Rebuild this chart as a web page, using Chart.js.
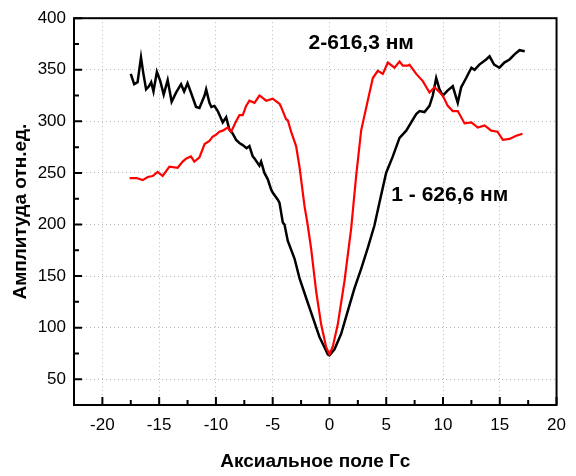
<!DOCTYPE html>
<html>
<head>
<meta charset="utf-8">
<script src="https://cdn.jsdelivr.net/npm/chart.js@4"></script>
<style>
  body { margin: 0; background: #fff; }
  #wrap { width: 576px; height: 476px; position: relative; }
</style>
</head>
<body>
<div id="wrap"><canvas id="myChart"></canvas></div>
<script>
// curve 1 (626,6 nm) - black
const blackX = [-17.5, -17.2, -16.9, -16.6, -16.4, -16.15, -15.9, -15.7, -15.5, -15.2, -14.9, -14.6, -14.25, -13.9, -13.5, -13.07, -12.8, -12.5, -12.2, -11.75, -11.45, -11.0, -10.86, -10.57, -10.4, -10.13, -9.84, -9.4, -9.1, -8.81, -8.52, -8.22, -7.93, -7.64, -7.3, -7.05, -6.76, -6.6, -6.17, -6.02, -5.73, -5.44, -5.14, -5.0, -4.55, -4.4, -4.11, -3.96, -3.67, -3.08, -2.64, -2.06, -1.47, -0.88, -0.44, -0.15, 0, 0.44, 1.03, 1.61, 2.2, 2.79, 3.37, 3.96, 4.4, 4.99, 5.58, 6.17, 6.76, 7.2, 7.64, 7.93, 8.37, 8.81, 9.1, 9.4, 9.69, 9.98, 10.42, 10.86, 11.3, 11.6, 12.04, 12.5, 12.78, 13.2, 13.8, 14.1, 14.5, 14.97, 15.4, 15.86, 16.3, 16.74, 17.2];
const blackY = [346, 336, 338, 362, 347, 331, 334, 338, 329, 348, 339, 326, 340, 319, 328, 336, 329, 337, 328, 314, 313, 325, 331, 318, 314, 315, 310, 299, 304, 292, 288, 282, 279, 277, 274, 276, 266, 264, 257, 261, 250, 244, 234, 231, 224, 221, 202, 200, 184, 167, 148, 129, 110, 91, 81, 74, 73, 79, 94, 116, 138, 157, 177, 199, 221, 250, 266, 284, 291, 299, 307, 310, 309, 315, 325, 342, 331, 325, 330, 334, 318, 333, 342, 352, 350, 355, 360, 363, 355, 352, 357, 360, 365, 369, 368];

// curve 2 (616,3 nm) - red
const redX = [-17.6, -17.0, -16.45, -16.0, -15.57, -15.13, -14.69, -14.1, -13.37, -12.93, -12.6, -12.2, -11.9, -11.45, -11.0, -10.57, -10.3, -10.0, -9.7, -9.4, -8.96, -8.66, -8.22, -7.93, -7.64, -7.34, -7.05, -6.6, -6.17, -6.02, -5.58, -5.0, -4.4, -4.26, -3.82, -3.67, -3.38, -2.94, -2.64, -2.2, -1.91, -1.62, -1.17, -0.73, -0.29, 0, 0.3, 0.73, 1.32, 1.91, 2.35, 2.79, 3.37, 3.82, 4.26, 4.7, 5.14, 5.73, 6.17, 6.46, 6.9, 7.05, 7.64, 8.22, 8.81, 9.25, 9.54, 9.98, 10.42, 10.86, 11.3, 11.9, 12.5, 13.07, 13.66, 14.25, 14.8, 15.27, 15.86, 16.45, 17.0];
const redY = [245, 245, 243, 246, 247, 251, 247, 256, 255, 261, 264, 266, 261, 265, 278, 281, 285, 287, 290, 291, 294, 290, 300, 306, 306, 315, 320, 318, 325, 324, 320, 322, 317, 314, 302, 301, 290, 276, 256, 218, 199, 177, 135, 103, 81, 74, 82, 103, 145, 196, 247, 291, 320, 342, 349, 346, 357, 352, 358, 354, 354, 355, 346, 339, 328, 333, 330, 325, 315, 310, 310, 298, 299, 294, 296, 291, 290, 282, 283, 286, 288];

const xTicks = [-20, -15, -10, -5, 0, 5, 10, 15, 20];
const yTicks = [50, 100, 150, 200, 250, 300, 350, 400];

const label1 = '1 - 626,6 нм';
const label2 = '2-616,3 нм';

const toPoints = (xs, ys) => xs.map((x, i) => ({ x: x, y: ys[i] }));

// frame, inward ticks and curve labels
const framePlugin = {
  id: 'frame',
  afterDraw(chart) {
    const c = chart.ctx;
    const a = chart.chartArea;
    const sx = chart.scales.x;
    const sy = chart.scales.y;
    c.save();
    c.strokeStyle = '#000';
    c.lineWidth = 2;
    c.strokeRect(a.left, a.top, a.right - a.left, a.bottom - a.top);

    c.beginPath();
    xTicks.forEach((v, i) => {
      const px = sx.getPixelForValue(v);
      c.moveTo(px, a.bottom);
      c.lineTo(px, a.bottom - 8);
      if (i < xTicks.length - 1) {
        const mx = sx.getPixelForValue((v + xTicks[i + 1]) / 2);
        c.moveTo(mx, a.bottom);
        c.lineTo(mx, a.bottom - 5);
      }
    });
    yTicks.forEach((v, i) => {
      const py = sy.getPixelForValue(v);
      c.moveTo(a.left, py);
      c.lineTo(a.left + 8, py);
      if (i < yTicks.length - 1) {
        const my = sy.getPixelForValue((v + yTicks[i + 1]) / 2);
        c.moveTo(a.left, my);
        c.lineTo(a.left + 5, my);
      }
    });
    c.stroke();

    c.fillStyle = '#000';
    c.font = 'bold 21px "Liberation Sans", Arial, sans-serif';
    c.textAlign = 'center';
    c.textBaseline = 'middle';
    c.fillText(label2, sx.getPixelForValue(2.8), sy.getPixelForValue(376));
    c.fillText(label1, sx.getPixelForValue(10.6), sy.getPixelForValue(228));
    c.restore();
  },
};

const ctx = document.getElementById('myChart');

new Chart(ctx, {
  type: 'scatter',
  data: {
    datasets: [
      {
        label: label1,
        data: toPoints(blackX, blackY),
        showLine: true,
        borderColor: '#000',
        borderWidth: 2.5,
        pointRadius: 0,
        order: 2,
      },
      {
        label: label2,
        data: toPoints(redX, redY),
        showLine: true,
        borderColor: '#ff0000',
        borderWidth: 2.2,
        pointRadius: 0,
        order: 1,
      },
    ],
  },
  options: {
    responsive: true,
    maintainAspectRatio: false,
    animation: false,
    layout: {
      padding: { top: 13, right: 19, left: 0, bottom: 0 },
    },
    scales: {
      x: {
        type: 'linear',
        min: -22.5,
        max: 20,
        afterBuildTicks: (scale) => {
          scale.ticks = xTicks.map((v) => ({ value: v }));
        },
        afterFit: (scale) => {
          scale.height = 71;
        },
        grid: {
          color: '#b8b8b8',
          lineWidth: 1,
          drawTicks: false,
        },
        border: { display: false, dash: [1, 3] },
        ticks: {
          color: '#000',
          padding: 10,
          maxRotation: 0,
          font: { family: '"Liberation Sans", Arial, sans-serif', size: 17 },
        },
        title: {
          display: true,
          text: 'Аксиальное поле Гс',
          color: '#000',
          padding: { top: 0, bottom: 3 },
          font: { family: '"Liberation Sans", Arial, sans-serif', size: 19, weight: 'bold' },
        },
      },
      y: {
        type: 'linear',
        min: 25,
        max: 400,
        afterBuildTicks: (scale) => {
          scale.ticks = yTicks.map((v) => ({ value: v }));
        },
        afterFit: (scale) => {
          scale.width = 74;
        },
        grid: {
          color: '#b8b8b8',
          lineWidth: 1,
          drawTicks: false,
        },
        border: { display: false, dash: [1, 3] },
        ticks: {
          color: '#000',
          padding: 8,
          font: { family: '"Liberation Sans", Arial, sans-serif', size: 17 },
        },
        title: {
          display: true,
          text: 'Амплитуда отн.ед.',
          color: '#000',
          padding: { top: 9, bottom: 0 },
          font: { family: '"Liberation Sans", Arial, sans-serif', size: 19, weight: 'bold' },
        },
      },
    },
    plugins: {
      legend: { display: false },
      tooltip: { enabled: false },
    },
  },
  plugins: [framePlugin],
});
</script>
</body>
</html>
